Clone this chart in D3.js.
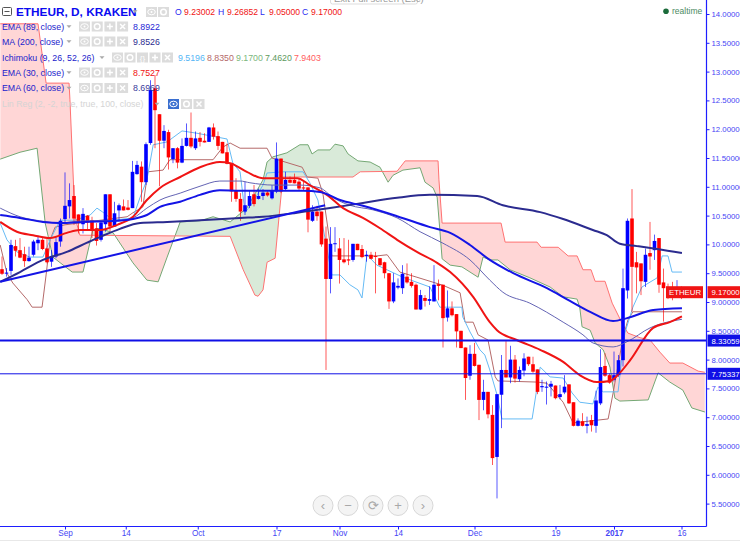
<!DOCTYPE html>
<html><head><meta charset="utf-8">
<script src="https://cdn.jsdelivr.net/npm/d3@7/dist/d3.min.js"></script>
<style>html,body{margin:0;padding:0;background:#fff}svg{display:block}text{font-family:"Liberation Sans",Arial,sans-serif}</style>
</head><body><svg id="c" width="740" height="541"></svg>
<script>
const firstDay=-14;
const opens=[9.57,9.50,9.54,9.97,9.90,9.83,9.71,9.82,10.02,10.08,9.93,9.70,9.79,10.05,10.44,10.66,10.84,10.52,10.35,10.50,10.42,10.28,10.08,10.35,10.87,10.31,10.59,10.66,10.64,10.63,11.22,11.35,11.08,11.76,12.71,12.26,11.80,11.95,11.48,11.67,11.42,11.71,11.85,11.67,11.85,11.80,11.78,12.03,11.88,11.78,11.60,
11.41,10.94,10.79,10.57,10.67,10.87,10.79,10.84,10.90,10.80,10.92,11.49,10.96,11.12,11.12,11.09,10.99,10.99,10.41,10.57,10.57,10.10,9.40,10.01,9.93,9.74,9.74,9.73,10.01,9.92,9.80,9.82,9.80,9.76,9.69,9.50,9.01,9.25,9.24,9.44,9.35,9.30,8.87,9.07,9.02,
9.01,9.31,9.30,8.73,8.89,8.79,8.50,8.21,7.72,8.10,7.91,7.30,7.44,7.04,6.31,7.39,7.82,7.69,8.00,7.66,7.81,8.05,7.92,7.83,7.52,7.52,7.53,7.55,7.35,7.43,7.57,7.26,6.85,6.93,6.85,6.95,6.85,7.24,7.89,7.73,7.65,7.73,
7.99,9.20,10.45,9.69,9.67,9.35,9.85,9.90,10.11,9.34,9.24,9.18,9.17,9.23];
const closes=[9.49,9.51,9.99,9.89,9.77,9.71,9.77,10.05,10.08,9.92,9.69,9.80,10.04,10.41,10.67,10.77,10.45,10.38,10.53,10.38,10.26,10.06,10.38,10.87,10.31,10.54,10.68,10.59,10.60,11.26,11.38,11.08,11.74,12.68,12.33,11.80,11.97,11.51,11.67,11.42,11.71,11.85,11.70,11.84,11.78,11.77,12.03,11.87,11.71,11.58,11.40,
10.92,10.79,10.57,10.68,10.84,10.70,10.84,10.90,10.85,10.93,11.49,10.92,11.12,11.07,11.06,10.97,10.97,10.43,10.57,10.49,10.00,9.40,10.01,10.02,9.73,9.69,9.72,10.01,9.90,9.78,9.82,9.75,9.79,9.64,9.50,9.01,9.34,9.28,9.49,9.34,9.28,8.87,9.12,9.02,9.05,
9.30,9.28,8.72,8.89,8.77,8.49,8.20,7.68,8.10,7.89,7.30,7.44,7.05,6.29,7.40,7.82,7.69,8.00,7.67,7.82,8.02,7.92,7.79,7.44,7.54,7.53,7.58,7.33,7.40,7.53,7.24,6.85,6.94,6.85,6.88,6.86,7.29,7.87,7.72,7.60,7.73,7.99,
9.24,10.41,9.61,9.60,9.36,9.82,9.79,10.06,9.30,9.24,9.18,9.14,9.24,9.17];
const highs=[9.79,9.59,10.08,10.08,10.11,9.96,9.96,10.08,10.15,10.11,10.13,9.90,10.13,10.45,11.25,11.06,11.03,10.52,10.63,10.51,10.48,10.37,10.40,10.87,10.87,10.74,10.71,10.78,10.77,11.45,11.45,11.44,11.77,12.85,12.94,12.26,12.07,11.99,11.67,11.69,11.84,12.10,12.29,11.96,11.95,11.93,12.04,12.10,11.96,11.78,11.75,
11.41,11.15,10.89,11.09,10.94,11.03,10.97,10.96,10.94,11.03,11.77,11.49,11.26,11.18,11.23,11.15,11.09,10.99,10.68,10.67,10.57,10.31,10.30,10.30,10.11,10.11,10.08,10.01,10.01,9.99,9.89,9.87,9.87,9.76,9.70,9.50,9.50,9.41,9.64,9.67,9.50,9.32,9.21,9.12,9.27,
9.64,9.39,9.30,9.20,9.01,8.79,8.50,8.21,8.25,8.29,7.91,7.65,7.44,7.21,7.40,8.08,8.32,8.24,8.08,7.88,8.11,8.05,8.05,7.83,7.65,7.62,7.63,7.55,7.56,7.73,7.57,7.26,6.98,7.07,7.01,7.04,7.46,8.18,8.11,7.76,8.14,8.08,
9.58,10.45,10.96,9.87,9.67,9.93,10.39,10.17,10.11,9.58,9.32,9.35,9.38,9.27];
const lows=[9.47,9.44,9.47,9.79,9.76,9.61,9.70,9.79,9.90,9.90,9.67,9.61,9.76,9.96,10.37,10.45,10.34,10.19,10.19,10.25,10.11,9.98,10.05,10.22,10.23,10.31,10.41,10.59,10.59,10.63,11.21,10.74,11.03,11.73,11.67,11.01,11.67,11.30,11.41,11.32,11.41,11.70,11.67,11.64,11.70,11.77,11.78,11.82,11.64,11.58,11.39,
10.74,10.74,10.41,10.51,10.63,10.66,10.78,10.77,10.83,10.78,10.89,10.89,10.94,11.06,11.06,10.94,10.94,10.21,10.39,10.41,9.96,7.82,9.15,9.87,9.32,9.67,9.64,9.70,9.90,9.76,9.70,9.74,9.15,9.62,9.41,8.88,8.98,9.22,9.14,9.32,9.25,8.87,8.86,8.92,8.95,
9.01,9.03,8.21,8.66,8.75,8.21,8.20,7.30,7.65,7.88,6.95,7.12,6.98,6.17,5.59,6.81,7.69,7.59,7.60,7.62,7.71,7.89,7.77,7.40,7.44,7.22,7.36,7.31,7.31,7.40,7.23,6.84,6.84,6.84,6.72,6.75,6.73,7.21,7.70,7.58,7.62,7.70,
7.88,9.06,8.83,9.15,9.12,9.26,9.56,9.73,9.16,8.66,9.05,9.03,9.07,9.05];

const ema30Days=[-14.4,-10.7,-7.1,-3.3,0.4,3.3,7.8,11.6,15.1,18.2,21.1,25.6,30,34.4,36.7,40.4,44,46.7,51.6,54.4,58.2,61.8,66.2,70,73.8,78.2,82.7,85.6,90.7,94.4,96,100.4,105.6,110.7,114.4,118.2,121.1,123.3,125.6,130.7,134.4,137.1];
const ema30Vals=[10.39,10.22,10.16,10.11,10.20,10.25,10.25,10.34,10.48,10.77,10.98,11.17,11.34,11.43,11.41,11.26,11.15,11.15,11.15,11.03,10.86,10.63,10.46,10.28,10.08,9.87,9.68,9.52,9.09,8.65,8.51,8.34,8.17,7.96,7.73,7.61,7.63,7.77,7.99,8.55,8.65,8.75];
const ema89Days=[-14.4,-10,-4.9,-1.1,4,11.6,15.1,18.2,21.1,25.6,30,34.4,38.9,42.7,47.8,52.9,56.7,61.1,66.2,73.8,81.1,85.6,90,94.4,99.6,107.1,112.2,116.7,121.8,124.9,130.7,137.1];
const ema89Vals=[10.51,10.46,10.39,10.37,10.39,10.41,10.44,10.51,10.65,10.74,10.86,10.94,10.93,10.93,10.93,10.93,10.91,10.77,10.67,10.49,10.30,10.20,9.99,9.73,9.50,9.24,9.02,8.83,8.67,8.72,8.86,8.89];
const ema60Days=[-14.4,-10,-5.6,-1.1,4,11.6,15.1,18.2,21.1,25.6,30,34.4,38.9,41.1,46.2,52.2,56.7,59.6,63.3,68.4,73.8,78.9,84,90,94.4,97.3,103.3,110.7,115.1,117.3,121.8,124.9,130,137.1];
const ema60Vals=[10.63,10.48,10.41,10.37,10.41,10.41,10.46,10.63,10.77,10.89,11.01,11.10,11.10,11.07,11.03,11.03,10.98,10.81,10.68,10.60,10.46,10.22,10.02,9.73,9.38,9.17,8.98,8.65,8.43,8.29,8.22,8.31,8.55,8.70];
const ma200Days=[-14.4,-10,-4.9,0.4,4.9,7.8,12.2,16.7,22.7,30,38.9,44,51.6,58.9,66.2,73.8,81.1,91.6,97.3,105.6,110.7,117.3,120.4,123.3,127.1,131.6,137.1];
const ma200Vals=[9.35,9.52,9.73,9.87,10.03,10.13,10.27,10.37,10.39,10.42,10.46,10.48,10.55,10.63,10.72,10.81,10.86,10.84,10.68,10.56,10.44,10.25,10.16,10.01,9.97,9.92,9.85];
const trendDays=[-14.4,57.8];
const trendVals=[9.35,10.68];
const spanADays=[-14.4,-10,-6.2,-4.4,-2.7,1.6,4,6.2,7.8,10.7,15.1,18.2,20.7,22.7,25.6,30,32.9,36.7,40.4,44,44.9,46.2,49.3,52.2,54,54.9,56.2,58.9,60,61.8,62.9,65.1,67.8,70,71.8,72.9,75.1,78.9,80,81.8,82.7,83.3,83.8,85.6,88.2,90,91.8,92.9,94.4,96.2,98.9,103.3,107.8,110.7,113.8,114.4,114.9,116.7,117.8,119.6,121.1,122.2,123.3,129.6,131.8,134.4,137.3,139.3,142.2];
const spanAVals=[11.48,11.60,11.67,10.37,9.78,9.52,9.52,10.25,10.28,10.20,9.68,9.38,9.35,9.78,10.39,10.41,10.48,10.39,10.63,11.12,11.43,11.52,11.59,11.73,11.73,11.57,11.64,11.64,11.74,11.71,11.57,11.45,11.43,11.34,11.08,11.20,11.29,11.33,11.08,10.98,10.82,10.25,9.75,9.64,9.61,9.52,9.43,9.78,9.73,9.73,9.56,9.42,9.26,9.09,9.05,8.90,8.57,8.51,8.29,8.17,7.87,7.33,7.28,7.30,7.77,7.61,7.47,7.16,7.09];
const spanBDays=[-14.4,-6,-4.2,0.9,1.1,2.2,3.3,36.7,39.6,42.2,42.9,44,44.9,46.7,48.4,64,65.6,73.8,75.6,82.9,83.1,83.8,96.9,97.8,104.9,105.8,109.6,111.8,113.8,115.1,116.9,117.8,120,121.6,124,125.1,127.8,130,132.2,134.4,137.3,140.7,142.2];
const spanBVals=[13.83,13.83,12.80,12.80,12.51,10.48,10.16,10.14,9.56,9.12,9.10,9.21,9.69,9.76,11.17,11.17,11.26,11.27,11.45,11.45,11.12,10.37,10.37,10.04,10.04,9.95,9.95,9.80,9.80,9.56,9.56,9.36,9.36,8.98,8.60,8.46,8.38,8.34,8.13,7.94,7.94,7.80,7.78];
const tenkanDays=[-14.4,-12.9,-10.7,-7.8,-4.9,-3.3,-1.1,2.2,5.6,7.1,8.4,10.7,15.1,16.7,18.2,19.6,22.7,26,29.3,36,37.3,38.9,40,41.8,44,44.9,48.4,52.9,54.4,56.2,59.3,61.1,63.3,65.1,66,67.1,69.3,75.1,81.1,83.3,88.2,88.4,90,92.2,93.3,94.4,96,97.1,103.8,105.6,107.8,110.7,112.7,114.4,117.3,118.4,119.6,122.9,124.4,126.2,128.2,131.6,132.7,134,134.9,137.1];
const tenkanVals=[10.37,10.08,9.87,9.78,9.78,10.08,10.42,10.42,10.51,10.63,10.56,10.42,10.46,10.82,11.12,11.73,11.78,11.97,11.93,11.83,11.41,11.26,10.55,10.74,11.03,11.24,11.26,11.26,11.07,10.77,9.47,9.47,9.30,9.21,9.07,9.82,9.64,9.43,9.26,8.91,8.91,8.74,8.48,8.17,8.08,7.82,7.39,6.97,6.97,7.87,7.70,7.68,7.42,7.26,7.23,7.52,7.44,7.44,8.46,8.91,9.26,9.42,9.80,9.80,9.52,9.52];
const kijunDays=[-14.4,-12.9,-11.6,-8.4,-7.3,-5.1,-4.2,-3.3,-2.2,0,13.8,15.1,17.3,18.4,21.8,23.3,32.9,35.1,36.7,38.9,44.9,46,52.7,53.8,56.2,57.3,59.3,69.3,71.6,74.4,78.2,84,87.8,88.9,90.7,91.8,94,95.6,96.2,104.9,107.1,110.7,112.9,120.7,121.8,124,125.1,126.2,137.1];
const kijunVals=[9.99,9.50,9.33,9.04,8.91,8.91,9.47,10.08,10.30,10.34,10.48,10.55,10.65,11.26,11.29,11.47,11.47,11.69,11.76,11.67,11.67,11.50,11.34,11.17,11.15,10.89,9.80,9.80,9.82,9.52,9.43,9.29,9.16,8.65,8.65,8.43,8.34,7.70,7.63,7.61,7.59,7.26,6.90,6.97,7.42,8.38,8.69,8.83,8.83];
const levels=[8.33059,7.75337];
const priceTicks=[14,13.5,13,12.5,12,11.5,11,10.5,10,9.5,9,8.5,8,7.5,7,6.5,6,5.5];
const timeTickDays=[0,13.5,29.5,47,61,74,91,109,122,137];
const timeTickLabels=["Sep","14","Oct","17","Nov","14","Dec","19","2017","16"];
const lastPrice=9.17;
const legendRows=[
 {name:"EMA (89, close)",value:"8.8922",color:"#1f1fd6"},
 {name:"MA (200, close)",value:"9.8526",color:"#2b2b8f"},
 {name:"EMA (30, close)",value:"8.7527",color:"#f01010"},
 {name:"EMA (60, close)",value:"8.6969",color:"#3a3a9a"}];
const ichimokuValues=[["9.5196","#55b5f5"],["8.8350","#b56a6a"],["9.1700","#7cb77c"],["7.4620","#5e9a5e"],["7.9403","#ff6060"]];
const ohlc=[["O","9.23002"],["H","9.26852"],["L","9.05000"],["C","9.17000"]];

const svg=d3.select("#c");
const axisX=706.5, axisY=526.5;
const x=d3.scaleLinear().domain([0,137]).range([65,681.5]);
const y=d3.scaleLinear().domain([14,5.5]).range([14,503.6]);
const BLUE="#0000ff",RED="#ff0000";
const pts=(ds,vs)=>ds.map((d,i)=>[x(d),y(vs[i])]);
const line=d3.line();
const smooth=d3.line().curve(d3.curveMonotoneX);
const defs=svg.append("defs");
defs.append("clipPath").attr("id","plot").append("rect").attr("x",0).attr("y",0).attr("width",axisX).attr("height",axisY);
const A=pts(spanADays,spanAVals),B=pts(spanBDays,spanBVals);
const poly=(p,yy)=>"M"+p.map(a=>a.join(",")).join("L")+`L${p[p.length-1][0]},${yy}L${p[0][0]},${yy}Z`;
defs.append("clipPath").attr("id","aboveA").append("path").attr("d",poly(A,-50));
defs.append("clipPath").attr("id","belowA").append("path").attr("d",poly(A,600));
const plot=svg.append("g").attr("clip-path","url(#plot)");
plot.append("g").attr("clip-path","url(#aboveA)").append("path").attr("d",poly(B,600)).attr("fill","#ffd6d6");
plot.append("g").attr("clip-path","url(#belowA)").append("path").attr("d",poly(B,-50)).attr("fill","#d9ead9");
const drawLine=(ds,vs,c,w,gen)=>plot.append("path").attr("d",(gen||line)(pts(ds,vs))).attr("fill","none").attr("stroke",c).attr("stroke-width",w).attr("stroke-linejoin","round");
drawLine(spanADays,spanAVals,"#74a874",1);
drawLine(spanBDays,spanBVals,"#ff7272",1);
drawLine(kijunDays,kijunVals,"#b56a6a",1);
drawLine(tenkanDays,tenkanVals,"#66bbf5",1);
const candles=opens.map((o,i)=>({d:firstDay+i,o,c:closes[i],h:highs[i],l:lows[i]}));
const cg=plot.append("g");
cg.selectAll("line").data(candles).join("line")
 .attr("x1",c=>x(c.d)).attr("x2",c=>x(c.d)).attr("y1",c=>y(c.h)).attr("y2",c=>y(c.l))
 .attr("stroke",c=>c.c>=c.o?BLUE:RED).attr("stroke-opacity",.65).attr("stroke-width",1);
cg.selectAll("rect").data(candles).join("rect")
 .attr("x",c=>x(c.d)-1.8).attr("width",3.6)
 .attr("y",c=>y(Math.max(c.o,c.c))).attr("height",c=>Math.max(1,Math.abs(y(c.o)-y(c.c))))
 .attr("fill",c=>c.c>=c.o?BLUE:RED);
drawLine(ema60Days,ema60Vals,"#6464b4",1,smooth);
drawLine(ma200Days,ma200Vals,"#2b2b8f",2,smooth);
drawLine(ema30Days,ema30Vals,"#f01414",2,smooth);
drawLine(ema89Days,ema89Vals,"#1414e6",2,smooth);
drawLine(trendDays,trendVals,"#1414e6",2);
plot.selectAll("line.lv").data(levels).join("line").attr("class","lv")
 .attr("x1",0).attr("x2",axisX).attr("y1",d=>y(d)).attr("y2",d=>y(d))
 .attr("stroke","#0f0fe6").attr("stroke-width",(d,i)=>i==0?2:1);
// axes
const AX="#1e1eff";
const yAxis=d3.axisRight(y).tickValues(priceTicks).tickSize(3).tickPadding(2).tickFormat(d3.format(".5f"));
const ya=svg.append("g").attr("transform",`translate(${axisX},0)`).call(yAxis);
ya.select(".domain").attr("d",`M0,0V${axisY}`).attr("stroke",AX).attr("stroke-width",1.2);
ya.selectAll("line").attr("stroke",AX);
ya.selectAll("text").attr("fill","#4646f5").attr("font-size",7.8).attr("font-family","Liberation Sans");
const xAxis=d3.axisBottom(x).tickValues(timeTickDays).tickSize(3).tickPadding(1).tickFormat((d,i)=>timeTickLabels[i]);
const xa=svg.append("g").attr("transform",`translate(0,${axisY})`).call(xAxis);
xa.select(".domain").attr("d",`M0,0H${axisX}`).attr("stroke",AX).attr("stroke-width",1.2);
xa.selectAll("line").attr("stroke",AX);
xa.selectAll("text").attr("fill","#4646f5").attr("font-size",8.2).attr("font-family","Liberation Sans").attr("font-weight",(d,i)=>timeTickLabels[i]==="2017"?"bold":"normal");
svg.append("rect").attr("x",0).attr("y",540).attr("width",740).attr("height",1).attr("fill","#e8e8e8");
// price tags
const tag=(v,c)=>{const g=svg.append("g");g.append("rect").attr("x",axisX+1).attr("y",y(v)-6).attr("width",34).attr("height",12).attr("fill",c);
 g.append("text").attr("x",711.5).attr("y",y(v)+3).attr("fill","#fff").attr("font-size",7.8).text(d3.format(".5f")(v));};
tag(levels[0],"#0f0fe6");tag(levels[1],"#0f0fe6");tag(lastPrice,"#f01414");
svg.append("rect").attr("x",666).attr("y",y(lastPrice)-6).attr("width",37).attr("height",12).attr("fill","#f01414");
svg.append("text").attr("x",669).attr("y",y(lastPrice)+3).attr("fill","#fff").attr("font-size",7.8).text("ETHEUR");
// realtime
svg.append("circle").attr("cx",666).attr("cy",11.3).attr("r",2.8).attr("fill","#1b6b3a");
svg.append("text").attr("x",672).attr("y",14).attr("fill","#4b8a63").attr("font-size",8.5).text("realtime");
// exit full screen
svg.append("rect").attr("x",330.5).attr("y",-8).attr("width",87).attr("height",12).attr("rx",2).attr("fill","#fff").attr("stroke","#ddd");
svg.append("text").attr("x",334).attr("y",2).attr("fill","#999").attr("font-size",9.5).text("Exit Full screen (Esc)");
// nav buttons
const navs=["‹","−","⟳","+","›"];
navs.forEach((s,i)=>{const cx=323+i*25;
 svg.append("circle").attr("cx",cx).attr("cy",505.5).attr("r",10).attr("fill","#f4f4f4").attr("stroke","#d8d8d8");
 svg.append("text").attr("x",cx).attr("y",509.5).attr("text-anchor","middle").attr("fill","#a8a8a8").attr("font-size",13).attr("font-family","DejaVu Sans").text(s);});
// legend
const icon=(gx,gy,kind,bg)=>{const g=svg.append("g").attr("transform",`translate(${gx},${gy})`);const fg="#fff";
 g.append("rect").attr("width",11).attr("height",10).attr("fill",bg||"#dcdcdc");
 if(kind==="eye"){g.append("ellipse").attr("cx",5.5).attr("cy",5).attr("rx",3.8).attr("ry",2.8).attr("fill","none").attr("stroke",fg);g.append("circle").attr("cx",5.5).attr("cy",5).attr("r",1).attr("fill",fg);}
 if(kind==="gear"){g.append("circle").attr("cx",5.5).attr("cy",5).attr("r",2.8).attr("fill","none").attr("stroke",fg).attr("stroke-width",1.5);}
 if(kind==="plus"){g.append("path").attr("d","M5.5,2V8M2.5,5H8.5").attr("stroke",fg).attr("stroke-width",1.5);}
 if(kind==="x"){g.append("path").attr("d","M3,2.5L8,7.5M8,2.5L3,7.5").attr("stroke",fg).attr("stroke-width",1.5);}
 if(kind==="br"){g.append("text").attr("x",5.5).attr("y",8).attr("text-anchor","middle").attr("fill",fg).attr("font-size",8).text("{}");}
};
const arrow=(ax,ay)=>svg.append("path").attr("d",`M${ax-2.5},${ay-1.2}H${ax+2.5}L${ax},${ay+1.5}Z`).attr("fill","#aaa");
svg.append("rect").attr("x",2.5).attr("y",7.5).attr("width",9).attr("height",8).attr("rx",1).attr("fill","#fff").attr("stroke","#555");
svg.append("path").attr("d","M4.5,11.5H9.5").attr("stroke","#555");
svg.append("text").attr("x",16).attr("y",15.5).attr("fill","#0a0af0").attr("font-size",11.8).attr("font-weight","bold").text("ETHEUR, D, KRAKEN");
arrow(135,11.5);icon(146,7,"eye");icon(158,7,"gear");
const ox=[175,218,260,302];
ohlc.forEach((o,i)=>{svg.append("text").attr("x",ox[i]).attr("y",14.5).attr("fill","#2a2af0").attr("font-size",8.6).text(o[0]);
 svg.append("text").attr("x",ox[i]+9).attr("y",14.5).attr("fill","#f01414").attr("font-size",8.6).text(o[1]);});
const rowY=[26.5,41.5,72.5,88];
legendRows.forEach((r,i)=>{const yy=rowY[i];
 svg.append("text").attr("x",2).attr("y",yy+3.2).attr("fill","#2222cc").attr("font-size",8.8).text(r.name);
 arrow(69,yy);["eye","gear","plus","x"].forEach((k,j)=>icon(79+j*12.7,yy-5,k));
 svg.append("text").attr("x",133).attr("y",yy+3.2).attr("fill",r.color).attr("font-size",8.8).text(r.value);});
const iy=57.5;
svg.append("text").attr("x",2).attr("y",iy+3.2).attr("fill","#2222cc").attr("font-size",8.8).text("Ichimoku (9, 26, 52, 26)");
arrow(102,iy);["eye","gear","br","plus","x"].forEach((k,j)=>icon(112+j*12.5,iy-5,k));
ichimokuValues.forEach((v,i)=>svg.append("text").attr("x",178+i*29).attr("y",iy+3.2).attr("fill",v[1]).attr("font-size",8.8).text(v[0]));
const ly=104;
svg.append("text").attr("x",2).attr("y",ly+3.2).attr("fill","#d4d4d4").attr("font-size",8.8).text("Lin Reg (2, -2, true, true, 100, close)");
arrow(157,ly);icon(168,ly-5,"eye","#3a6fd0");icon(181,ly-5,"gear");icon(193.5,ly-5,"x");
</script></body></html>
